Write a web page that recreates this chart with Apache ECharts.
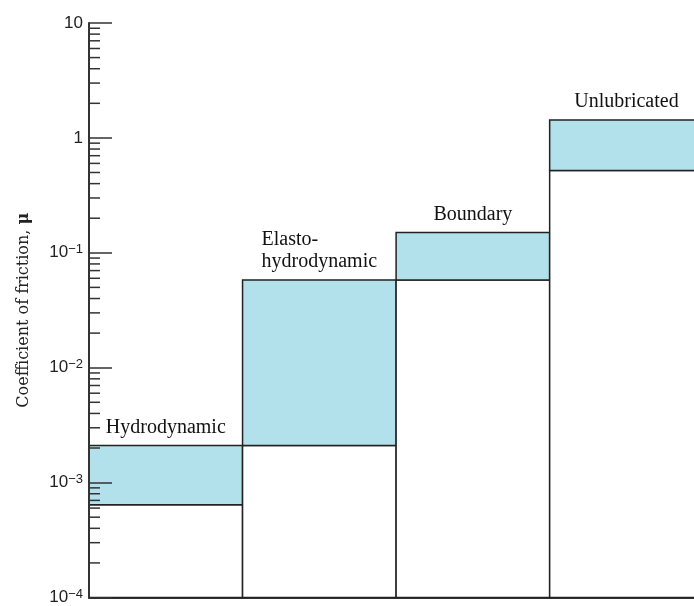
<!DOCTYPE html>
<html>
<head>
<meta charset="utf-8">
<script src="https://cdn.jsdelivr.net/npm/echarts@6/dist/echarts.min.js"></script>
<style>
html,body{margin:0;padding:0;background:#fff;}
#chart{width:694px;height:606px;}
</style>
</head>
<body>
<div id="chart"></div>
<script>
// ---- data ----
const categories = ['Hydrodynamic', 'Elasto-\nhydrodynamic', 'Boundary', 'Unlubricated'];
const lowerValues = [0.00064, 0.0021, 0.058, 0.52];
const upperValues = [0.0021, 0.058, 0.15, 1.43];
const yMin = 0.0001;
const yMax = 10;
// tick labels indexed by exponent (-4 .. 1)
const yTickLabels = ['{b|10}{s|\u22124}', '{b|10}{s|\u22123}', '{b|10}{s|\u22122}', '{b|10}{s|\u22121}', '{b|1}', '{b|10}'];
const minorTickValues = [
  0.0002, 0.0003, 0.0004, 0.0005, 0.0006, 0.0007, 0.0008, 0.0009,
  0.002, 0.003, 0.004, 0.005, 0.006, 0.007, 0.008, 0.009,
  0.02, 0.03, 0.04, 0.05, 0.06, 0.07, 0.08, 0.09,
  0.2, 0.3, 0.4, 0.5, 0.6, 0.7, 0.8, 0.9,
  2, 3, 4, 5, 6, 7, 8, 9
];
const yAxisTitle = '{t|Coefficient of friction, }{m|\u03bc}';

const chart = echarts.init(document.getElementById('chart'), null, {renderer: 'canvas'});

const lineColor = '#333';
const fillColor = '#b2e1ec';

const option = {
  backgroundColor: '#ffffff',
  animation: false,
  grid: {left: 89, right: 0, top: 23, bottom: 5, containLabel: false},
  xAxis: {
    type: 'value', min: 0, max: 3.94,
    axisLine: {show: true, onZero: false, lineStyle: {color: lineColor, width: 2}},
    axisTick: {show: false}, axisLabel: {show: false}, splitLine: {show: false}
  },
  yAxis: {
    type: 'log', logBase: 10, min: yMin, max: yMax,
    z: 10,
    axisLine: {show: true, lineStyle: {color: lineColor, width: 2}},
    axisTick: {show: true, inside: true, length: 23, lineStyle: {color: lineColor, width: 1.5}},
    splitLine: {show: false},
    axisLabel: {
      margin: 6,
      formatter: function (v) {
        const e = Math.round(Math.log10(v));
        return yTickLabels[e + 4];
      },
      rich: {
        b: {fontFamily: '"Liberation Sans", Arial, sans-serif', fontSize: 17, lineHeight: 19, color: '#222'},
        s: {fontFamily: '"Liberation Sans", Arial, sans-serif', fontSize: 13, lineHeight: 13, verticalAlign: 'top', color: '#222'}
      }
    },
    name: yAxisTitle,
    nameLocation: 'middle',
    nameGap: 57,
    nameRotate: 90,
    nameTextStyle: {
      rich: {
        t: {fontFamily: '"DejaVu Serif", serif', fontSize: 16, color: '#222'},
        m: {fontFamily: '"DejaVu Serif", serif', fontSize: 16, fontWeight: 'bold', color: '#222'}
      }
    }
  },
  series: [
    {
      type: 'custom',
      z: 2,
      encode: {x: 0, y: [1, 2]},
      data: categories.map((c, i) => [i, lowerValues[i], upperValues[i]]),
      renderItem: function (params, api) {
        const i = api.value(0);
        const lo = api.value(1);
        const hi = api.value(2);
        const pBase = api.coord([i, yMin]);
        const pLo = api.coord([i + 1, lo]);
        const pHi = api.coord([i + 1, hi]);
        const x0 = pBase[0], x1 = pLo[0];
        const label = categories[params.dataIndex];
        const isMulti = label.indexOf('\n') >= 0;
        const text = isMulti ? label.split('\n').map(s => '{l|' + s + '}').join('\n') : label;
        return {
          type: 'group',
          children: [
            {
              type: 'rect',
              shape: {x: x0, y: pLo[1], width: x1 - x0, height: pBase[1] - pLo[1]},
              style: {fill: '#ffffff', stroke: '#222', lineWidth: 1.5}
            },
            {
              type: 'rect',
              shape: {x: x0, y: pHi[1], width: x1 - x0, height: pLo[1] - pHi[1]},
              style: {fill: fillColor, stroke: '#222', lineWidth: 1.5}
            },
            {
              type: 'text',
              style: {
                text: text,
                x: (x0 + x1) / 2,
                y: pHi[1] - 7,
                align: 'center',
                verticalAlign: 'bottom',
                font: '20px "Liberation Serif", "Times New Roman", serif',
                lineHeight: 22,
                fill: '#111',
                rich: {l: {align: 'left', font: '20px "Liberation Serif", "Times New Roman", serif', lineHeight: 22}}
              }
            }
          ]
        };
      }
    },
    {
      type: 'custom',
      z: 12,
      encode: {x: 0, y: 1},
      data: minorTickValues.map(v => [0, v]),
      renderItem: function (params, api) {
        const p = api.coord([0, api.value(1)]);
        return {
          type: 'line',
          shape: {x1: p[0], y1: p[1], x2: p[0] + 11, y2: p[1]},
          style: {stroke: lineColor, lineWidth: 1.5}
        };
      }
    }
  ]
};
chart.setOption(option);
</script>
</body>
</html>
